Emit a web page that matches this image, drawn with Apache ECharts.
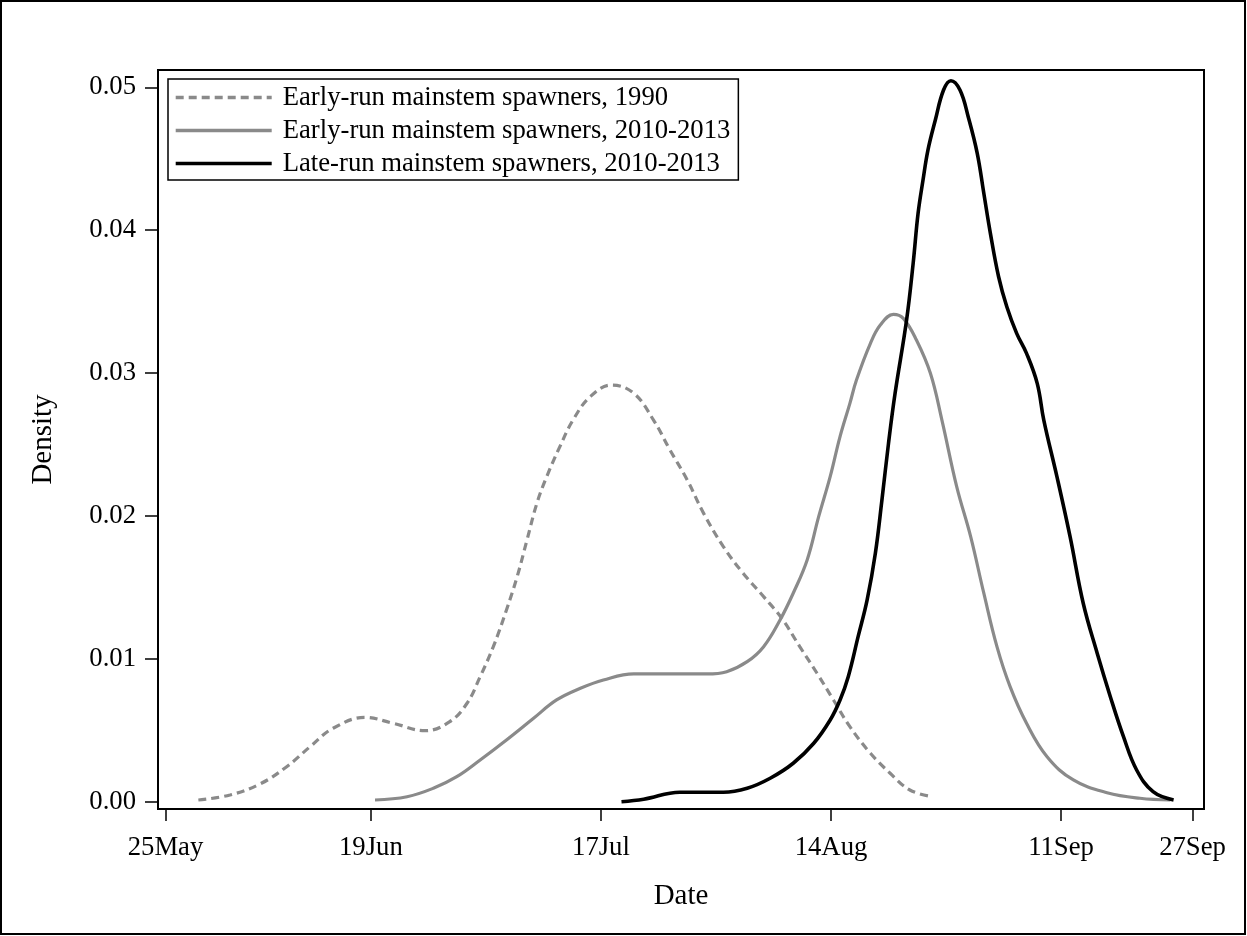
<!DOCTYPE html>
<html>
<head>
<meta charset="utf-8">
<title>Spawning timing density</title>
<script src="https://cdn.jsdelivr.net/npm/echarts@6/dist/echarts.min.js"></script>
<style>
  html, body { margin: 0; padding: 0; background: #fff; }
  #chart { width: 1247px; height: 936px; }
</style>
</head>
<body>
<div id="chart"></div>
<script>
// Days are counted from 25 May.
const dayTicks = [0, 25, 53, 81, 109, 125];
const dayTickLabels = ['25May', '19Jun', '17Jul', '14Aug', '11Sep', '27Sep'];
const densityTicks = [0, 0.01, 0.02, 0.03, 0.04, 0.05];

const seriesNames = [
  'Early-run mainstem spawners, 1990',
  'Early-run mainstem spawners, 2010-2013',
  'Late-run mainstem spawners, 2010-2013'
];

// Early-run mainstem spawners, 1990
const early1990Day = [4.0, 7.85, 11.5, 14.75, 17.6, 20.4, 24.3, 27.7, 31.6, 34.6, 36.7, 38.3, 39.9, 41.5, 42.8, 44.0, 45.2, 46.4, 48.0, 49.6, 51.7, 54.3, 57.0, 59.4, 61.4, 63.5, 65.5, 67.9, 70.3, 72.8, 75.0, 77.2, 79.3, 81.3, 83.3, 85.8, 88.2, 90.6, 93.3];
const early1990Density = [0.00012, 0.00047, 0.00124, 0.00245, 0.00385, 0.00514, 0.0059, 0.00549, 0.00497, 0.0056, 0.00689, 0.00875, 0.01085, 0.01342, 0.01575, 0.01832, 0.02088, 0.02275, 0.02485, 0.02671, 0.02835, 0.02916, 0.02858, 0.02671, 0.02462, 0.02252, 0.02018, 0.01785, 0.01599, 0.01435, 0.01284, 0.01085, 0.00899, 0.00712, 0.00525, 0.00339, 0.00199, 0.00082, 0.00035];

// Early-run mainstem spawners, 2010-2013
const early2010Day = [25.5, 29.4, 32.6, 35.45, 38.3, 41.5, 44.8, 47.6, 50.5, 53.3, 57.0, 61.0, 65.9, 68.3, 70.8, 72.8, 74.8, 76.4, 78.1, 79.5, 80.9, 82.1, 83.3, 84.1, 85.8, 87.0, 88.6, 89.8, 91.4, 93.1, 94.5, 96.3, 98.0, 99.6, 101.2, 102.8, 104.8, 107.3, 110.5, 114.6, 118.6, 122.3];
const early2010Density = [0.00012, 0.00035, 0.00094, 0.00175, 0.00292, 0.00432, 0.00584, 0.00712, 0.00794, 0.00852, 0.00894, 0.00894, 0.00894, 0.0091, 0.0098, 0.01085, 0.01272, 0.01459, 0.01692, 0.01995, 0.02275, 0.02555, 0.02788, 0.02951, 0.03208, 0.03336, 0.03411, 0.03383, 0.03231, 0.02998, 0.02671, 0.02205, 0.01855, 0.01459, 0.01085, 0.00805, 0.00549, 0.00315, 0.00152, 0.00063, 0.00024, 0.00012];

// Late-run mainstem spawners, 2010-2013
const late2010Day = [55.5, 58.2, 62.6, 67.9, 70.8, 73.6, 76.4, 78.9, 80.9, 82.1, 83.1, 84.3, 85.4, 86.4, 87.2, 88.0, 88.8, 90.2, 91.0, 91.6, 92.2, 92.8, 93.7, 94.7, 95.6, 96.7, 97.7, 98.8, 99.6, 100.4, 101.4, 102.4, 103.6, 104.8, 106.1, 106.9, 108.5, 110.1, 111.7, 113.4, 115.0, 116.6, 118.2, 120.2, 122.7];
const late2010Density = [0.0, 0.00017, 0.00066, 0.00066, 0.00094, 0.00164, 0.00269, 0.00409, 0.00572, 0.00712, 0.00875, 0.01155, 0.01412, 0.01739, 0.02112, 0.02508, 0.02858, 0.03371, 0.03768, 0.04118, 0.04351, 0.04561, 0.04771, 0.04981, 0.05046, 0.04981, 0.04794, 0.04538, 0.04258, 0.03978, 0.03674, 0.03464, 0.03278, 0.03138, 0.02928, 0.02671, 0.02275, 0.01855, 0.01389, 0.01039, 0.00735, 0.00455, 0.00222, 0.0007, 0.00012];

function pairs(xs, ys) {
  return xs.map((x, i) => [x, ys[i]]);
}

const FONT = 'Liberation Serif';
const LABEL_SIZE = 26.7;
const TITLE_SIZE = 29;
const GRAY = '#8a8a8a';

const chart = echarts.init(document.getElementById('chart'), null, { renderer: 'canvas' });

chart.setOption({
  backgroundColor: '#fff',
  animation: false,
  graphic: [{
    type: 'rect',
    shape: { x: 1, y: 1, width: 1244, height: 933 },
    style: { fill: 'none', stroke: '#000', lineWidth: 2 },
    silent: true
  }],
  grid: {
    left: 158, top: 70, right: 43, bottom: 127,
    show: true, borderColor: '#000', borderWidth: 2, backgroundColor: 'transparent'
  },
  legend: {
    orient: 'vertical',
    left: 168, top: 79,
    padding: [5, 8, 3, 6],
    itemWidth: 96, itemHeight: 26, itemGap: 6,
    borderColor: '#000', borderWidth: 1.5,
    backgroundColor: '#fff',
    data: seriesNames,
    itemStyle: { opacity: 0 },
    lineStyle: { width: 3.4 },
    textStyle: { fontFamily: FONT, fontSize: LABEL_SIZE, color: '#000', lineHeight: 26, padding: [0, 0, 0, 6] }
  },
  xAxis: {
    type: 'value',
    min: -0.913, max: 126.4,
    name: 'Date', nameLocation: 'middle', nameGap: 73,
    nameTextStyle: { fontFamily: FONT, fontSize: TITLE_SIZE, color: '#000' },
    axisLine: { show: true, onZero: false, lineStyle: { color: '#000', width: 2 } },
    axisTick: { show: true, length: 12, customValues: dayTicks, lineStyle: { color: '#000', width: 1.5 } },
    axisLabel: {
      customValues: dayTicks, margin: 25,
      fontFamily: FONT, fontSize: LABEL_SIZE, color: '#000',
      formatter: v => dayTickLabels[dayTicks.indexOf(Math.round(v))] ?? ''
    },
    splitLine: { show: false }
  },
  yAxis: {
    type: 'value',
    min: -0.000511, max: 0.05121,
    name: 'Density', nameLocation: 'middle', nameGap: 100, nameRotate: 90,
    nameTextStyle: { fontFamily: FONT, fontSize: TITLE_SIZE, color: '#000' },
    axisLine: { show: true, onZero: false, lineStyle: { color: '#000', width: 2 } },
    axisTick: { show: true, length: 13, customValues: densityTicks, lineStyle: { color: '#000', width: 1.5 } },
    axisLabel: {
      customValues: densityTicks, margin: 22,
      fontFamily: FONT, fontSize: LABEL_SIZE, color: '#000',
      formatter: v => v.toFixed(2)
    },
    splitLine: { show: false }
  },
  series: [
    {
      name: seriesNames[0], type: 'line', symbol: 'none', smooth: 0.4,
      data: pairs(early1990Day, early1990Density),
      lineStyle: { color: GRAY, width: 3.2, type: [8, 5] },
      itemStyle: { color: GRAY }
    },
    {
      name: seriesNames[1], type: 'line', symbol: 'none', smooth: 0.4,
      data: pairs(early2010Day, early2010Density),
      lineStyle: { color: GRAY, width: 3.2 },
      itemStyle: { color: GRAY }
    },
    {
      name: seriesNames[2], type: 'line', symbol: 'none', smooth: 0.4,
      data: pairs(late2010Day, late2010Density),
      lineStyle: { color: '#000', width: 3.6 },
      itemStyle: { color: '#000' }
    }
  ]
});
</script>
</body>
</html>
